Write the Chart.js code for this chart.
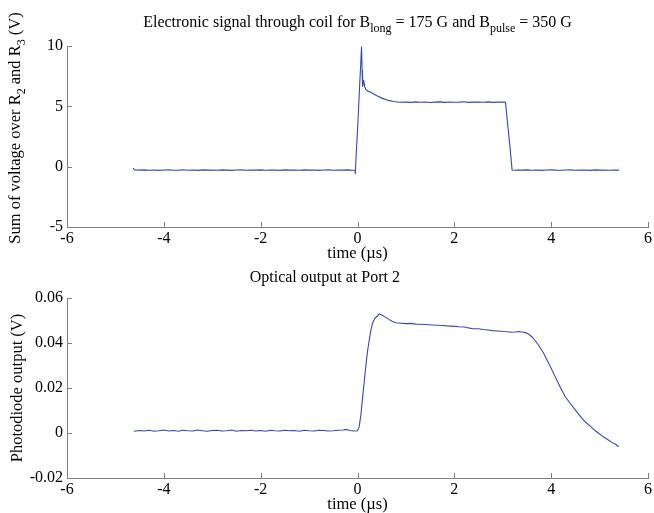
<!DOCTYPE html>
<html><head><meta charset="utf-8">
<script src="https://cdn.jsdelivr.net/npm/chart.js@4/dist/chart.umd.min.js"></script>
<style>
html,body{margin:0;padding:0;background:#fff;}
#wrap{position:relative;width:654px;height:513px;overflow:hidden;background:#fff;}
#c1{position:absolute;left:0;top:0;width:654px;height:262px;}
#c2{position:absolute;left:0;top:262px;width:654px;height:251px;}
</style></head><body>
<div id="wrap"><canvas id="c1" width="654" height="262"></canvas><canvas id="c2" width="654" height="251"></canvas></div>
<script>
// ---------- data ----------
const xTicks = [-6, -4, -2, 0, 2, 4, 6];
const xTickLabels = ['-6', '-4', '-2', '0', '2', '4', '6'];
const yTicksTop = [-5, 0, 5, 10];
const yTickLabelsTop = ['-5', '0', '5', '10'];
const yTicksBottom = [-0.02, 0, 0.02, 0.04, 0.06];
const yTickLabelsBottom = ['-0.02', '0', '0.02', '0.04', '0.06'];

const timeTop = [-4.63, -4.61,
  -4.5, -4.4, -4.3, -4.2, -4.1, -4.0, -3.9, -3.8, -3.7, -3.6, -3.5, -3.4, -3.3, -3.2, -3.1, -3.0,
  -2.9, -2.8, -2.7, -2.6, -2.5, -2.4, -2.3, -2.2, -2.1, -2.0, -1.9, -1.8, -1.7, -1.6, -1.5, -1.4,
  -1.3, -1.2, -1.1, -1.0, -0.9, -0.8, -0.7, -0.6, -0.5, -0.4, -0.3, -0.2, -0.1,
  -0.05, -0.045, -0.03, 0.0, 0.03, 0.05, 0.07, 0.083, 0.095, 0.104, 0.115, 0.124, 0.135, 0.145,
  0.172, 0.22, 0.31, 0.4, 0.516, 0.653, 0.75, 0.859, 0.95,
  1.0, 1.1, 1.2, 1.3, 1.4, 1.5, 1.6, 1.7, 1.8, 1.9, 2.0, 2.1, 2.2, 2.3, 2.4, 2.5, 2.6, 2.7, 2.8, 2.9, 3.0,
  3.056, 3.1, 3.15, 3.193, 3.25, 3.3,
  3.4, 3.5, 3.6, 3.7, 3.8, 3.9, 4.0, 4.1, 4.2, 4.3, 4.4, 4.5, 4.6, 4.7, 4.8, 4.9, 5.0, 5.1, 5.2, 5.3, 5.4];
const voltTop = [-0.12, -0.28,
  -0.29, -0.27, -0.30, -0.28, -0.31, -0.28, -0.27, -0.30, -0.29, -0.26, -0.30, -0.28, -0.31, -0.27, -0.29, -0.28,
  -0.30, -0.27, -0.29, -0.31, -0.28, -0.27, -0.30, -0.28, -0.29, -0.27, -0.30, -0.29, -0.28, -0.31, -0.27, -0.29,
  -0.28, -0.30, -0.27, -0.29, -0.28, -0.31, -0.28, -0.27, -0.30, -0.28, -0.29, -0.27, -0.30,
  -0.28, -0.60, 0.8, 3.0, 5.5, 7.2, 8.8, 9.95, 8.0, 6.63, 7.0, 7.2, 6.9, 6.65,
  6.41, 6.25, 6.08, 5.88, 5.66, 5.47, 5.40, 5.34, 5.36,
  5.35, 5.33, 5.37, 5.34, 5.36, 5.32, 5.35, 5.37, 5.33, 5.36, 5.34, 5.35, 5.38, 5.33, 5.35, 5.36, 5.34, 5.37, 5.33, 5.35, 5.36,
  5.33, 3.6, 1.6, -0.27, -0.30, -0.28,
  -0.29, -0.27, -0.30, -0.28, -0.31, -0.28, -0.27, -0.29, -0.30, -0.28, -0.27, -0.30, -0.29, -0.28, -0.31, -0.27, -0.29, -0.28, -0.30, -0.28, -0.29];

const timeBottom = [-4.62,
  -4.5, -4.4, -4.3, -4.2, -4.1, -4.0, -3.9, -3.8, -3.7, -3.6, -3.5, -3.4, -3.3, -3.2, -3.1, -3.0,
  -2.9, -2.8, -2.7, -2.6, -2.5, -2.4, -2.3, -2.2, -2.1, -2.0, -1.9, -1.8, -1.7, -1.6, -1.5, -1.4,
  -1.3, -1.2, -1.1, -1.0, -0.9, -0.8, -0.7, -0.6, -0.5, -0.4, -0.3, -0.24, -0.15, -0.08,
  0.0, 0.035, 0.07, 0.10, 0.135, 0.17, 0.205, 0.24, 0.275, 0.31, 0.36, 0.41, 0.447, 0.50, 0.585, 0.65, 0.72, 0.79,
  0.9, 1.0, 1.1, 1.2, 1.3, 1.4, 1.545, 1.65, 1.75, 1.85, 1.95, 2.09, 2.2, 2.3, 2.37, 2.5, 2.6, 2.7, 2.78, 2.9, 3.0,
  3.1, 3.19, 3.26, 3.33, 3.4, 3.47, 3.53, 3.6, 3.67, 3.74, 3.85, 3.95, 4.05, 4.15, 4.22, 4.29, 4.4, 4.5, 4.6,
  4.7, 4.8, 4.9, 4.98, 5.08, 5.18, 5.28, 5.33, 5.39];
const photoBottom = [0.0008,
  0.0011, 0.0009, 0.0012, 0.0008, 0.0010, 0.0013, 0.0009, 0.0011, 0.0008, 0.0012, 0.0010, 0.0009, 0.0013, 0.0010, 0.0008, 0.0011,
  0.0012, 0.0009, 0.0010, 0.0013, 0.0008, 0.0011, 0.0010, 0.0012, 0.0009, 0.0011, 0.0008, 0.0012, 0.0010, 0.0009, 0.0012, 0.0010,
  0.0011, 0.0008, 0.0012, 0.0010, 0.0009, 0.0012, 0.0011, 0.0009, 0.0010, 0.0012, 0.0013, 0.0016, 0.0011, 0.0009,
  0.0010, 0.0028, 0.0080, 0.0147, 0.0220, 0.0295, 0.0360, 0.0410, 0.0455, 0.0488, 0.0510, 0.0520, 0.0529, 0.0524, 0.0514, 0.0505, 0.0496, 0.0490,
  0.0488, 0.0486, 0.0487, 0.0484, 0.0483, 0.0482, 0.0480, 0.0479, 0.0478, 0.0476, 0.0475, 0.0472, 0.0471, 0.0467, 0.0464, 0.0463, 0.0460, 0.0458, 0.0455, 0.0453, 0.0451,
  0.0450, 0.0448, 0.0449, 0.0451, 0.0449, 0.0446, 0.0440, 0.0428, 0.0410, 0.0390, 0.0352, 0.0310, 0.0265, 0.0220, 0.0190, 0.0161, 0.0130, 0.0102, 0.0075,
  0.0050, 0.0032, 0.0012, -0.0001, -0.0017, -0.0031, -0.0045, -0.0050, -0.0061];

// ---------- styling ----------
const FONT = '"Liberation Serif", "Times New Roman", serif';
const AXIS = '#808080';
const LINE = '#3448b8';
const TICK_SIZE = 16;
const LABEL_SIZE = 16.5;

const inwardTicks = {
  id: 'inwardTicks',
  afterDraw(chart) {
    const ctx = chart.ctx, xs = chart.scales.x, ys = chart.scales.y, a = chart.chartArea;
    ctx.save();
    ctx.strokeStyle = AXIS; ctx.lineWidth = 1;
    ctx.beginPath();
    xs.ticks.forEach(t => {
      const px = Math.round(xs.getPixelForValue(t.value)) + 0.5;
      ctx.moveTo(px, a.bottom); ctx.lineTo(px, a.bottom - 5);
    });
    ys.ticks.forEach(t => {
      const py = Math.round(ys.getPixelForValue(t.value)) + 0.5;
      ctx.moveTo(a.left, py); ctx.lineTo(a.left + 5, py);
    });
    ctx.stroke();
    ctx.restore();
  }
};

function drawRich(ctx, segs, cx, baseY, size, subSize, subDrop) {
  let w = 0;
  segs.forEach(s => { ctx.font = (s.sub ? subSize : size) + 'px ' + FONT; s.w = ctx.measureText(s.t).width; w += s.w; });
  let x = cx - w / 2;
  ctx.textAlign = 'left'; ctx.textBaseline = 'alphabetic'; ctx.fillStyle = '#000';
  segs.forEach(s => {
    ctx.font = (s.sub ? subSize : size) + 'px ' + FONT;
    ctx.fillText(s.t, x, baseY + (s.sub ? subDrop : 0));
    x += s.w;
  });
}

const richLabels = {
  id: 'richLabels',
  afterDraw(chart, args, opts) {
    if (!opts.enabled) return;
    const ctx = chart.ctx, a = chart.chartArea;
    ctx.save();
    drawRich(ctx, [
      {t: 'Electronic signal through coil for B'}, {t: 'long', sub: 1},
      {t: ' = 175 G and B'}, {t: 'pulse', sub: 1}, {t: ' = 350 G'}
    ], (a.left + a.right) / 2, 27, 16, 12, 5);
    ctx.translate(20, 128);
    ctx.rotate(-Math.PI / 2);
    drawRich(ctx, [
      {t: 'Sum of voltage over R'}, {t: '2', sub: 1}, {t: ' and R'}, {t: '3', sub: 1}, {t: ' (V)'}
    ], 0, 0, LABEL_SIZE, 12, 5);
    ctx.restore();
  }
};

function toPoints(xs, ys) { return xs.map((x, i) => ({x: x, y: ys[i]})); }

function makeChart(canvas, opt) {
  return new Chart(canvas, {
    type: 'line',
    data: {datasets: [{
      data: toPoints(opt.xs, opt.ys),
      borderColor: LINE, borderWidth: 1.1, pointRadius: 0, tension: 0, fill: false
    }]},
    plugins: [inwardTicks, richLabels],
    options: {
      responsive: false, animation: false, devicePixelRatio: 1,
      layout: {padding: {top: opt.padTop, right: 4.4, left: 0, bottom: 0}},
      plugins: {
        legend: {display: false}, tooltip: {enabled: false},
        title: opt.title ? {display: true, text: opt.title, color: '#000',
          font: {family: FONT, size: 16, weight: 'normal', lineHeight: 1.2},
          padding: {top: 6.4, bottom: 10.4}} : {display: false},
        richLabels: {enabled: !!opt.rich}
      },
      scales: {
        x: {
          type: 'linear', min: -6, max: 6,
          afterBuildTicks: s => { s.ticks = xTicks.map(v => ({value: v})); },
          afterFit: s => { s.height = 35; },
          grid: {display: false, drawTicks: false, tickLength: 0},
          border: {display: true, color: AXIS, width: 1},
          ticks: {autoSkip: false, maxRotation: 0, padding: 2, color: '#000',
            font: {family: FONT, size: TICK_SIZE},
            callback: (v) => xTickLabels[xTicks.indexOf(v)]},
          title: {display: true, text: 'time (\u00b5s)', color: '#000',
            font: {family: FONT, size: LABEL_SIZE, lineHeight: 1}, padding: {top: 0, bottom: 0}}
        },
        y: {
          type: 'linear', min: opt.ymin, max: opt.ymax,
          afterBuildTicks: s => { s.ticks = opt.yTicks.map(v => ({value: v})); },
          afterFit: s => { s.width = 67; },
          grid: {display: false, drawTicks: false, tickLength: 0},
          border: {display: true, color: AXIS, width: 1},
          ticks: {autoSkip: false, padding: 4, color: '#000',
            font: {family: FONT, size: TICK_SIZE},
            callback: (v) => opt.yLabels[opt.yTicks.indexOf(v)]},
          title: opt.ytitle ? {display: true, text: opt.ytitle, color: '#000',
            font: {family: FONT, size: LABEL_SIZE, lineHeight: 1}, padding: {top: 9.75, bottom: 0}} : {display: false}
        }
      }
    }
  });
}

makeChart(document.getElementById('c1'), {
  xs: timeTop, ys: voltTop, padTop: 46, rich: true,
  ymin: -5, ymax: 10, yTicks: yTicksTop, yLabels: yTickLabelsTop
});
makeChart(document.getElementById('c2'), {
  xs: timeBottom, ys: photoBottom, padTop: 0, title: 'Optical output at Port 2',
  ymin: -0.02, ymax: 0.06, yTicks: yTicksBottom, yLabels: yTickLabelsBottom,
  ytitle: 'Photodiode output (V)'
});
</script>
</body></html>
